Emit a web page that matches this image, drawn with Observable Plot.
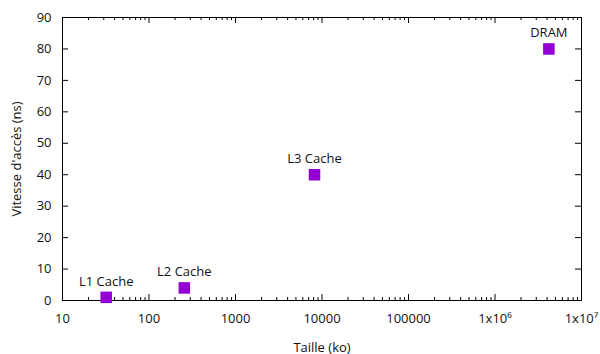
<!DOCTYPE html>
<html>
<head>
<meta charset="utf-8">
<script src="https://cdn.jsdelivr.net/npm/d3@7"></script>
<script src="https://cdn.jsdelivr.net/npm/@observablehq/plot@0.6"></script>
<style>
  html, body { margin: 0; padding: 0; background: #fff; }
  #chart svg { display: block; }
</style>
</head>
<body>
<div id="chart"></div>
<script>
// Data
const labels = ["L1 Cache", "L2 Cache", "L3 Cache", "DRAM"];
const sizes = [32, 256, 8192, 4194304];     // Taille (ko)
const latencies = [1, 4, 40, 80];           // Vitesse d'accès (ns)

const xMajorTicks = [10, 100, 1000, 10000, 100000, 1e6, 1e7];
const xTickLabels = ["10", "100", "1000", "10000", "100000", "1x10\u2076", "1x10\u2077"];
const yTicks = [0, 10, 20, 30, 40, 50, 60, 70, 80, 90];

const data = labels.map((l, i) => ({label: l, size: sizes[i], latency: latencies[i]}));
const xMinorTicks = [];
for (let i = 0; i < xMajorTicks.length - 1; i++)
  for (let k = 2; k <= 9; k++) xMinorTicks.push(xMajorTicks[i] * k);

const W = 600, H = 354;
const mL = 62, mR = 19, mT = 17, mB = 54;
const pw = W - mL - mR, ph = H - mT - mB;
const major = 6, minor = 3;
const color = "#9400D3";

const chart = Plot.plot({
  width: W,
  height: H,
  marginLeft: mL, marginRight: mR, marginTop: mT, marginBottom: mB,
  style: {fontFamily: "'Open Sans', 'Noto Sans', sans-serif", fontSize: "13px", color: "#111", background: "#fff"},
  x: {type: "log", domain: [10, 1e7]},
  y: {domain: [0, 90]},
  marks: [
    // mirrored inward ticks
    Plot.ruleX(xMajorTicks, {x: d => d, insetTop: ph - major, stroke: "#000"}),
    Plot.ruleX(xMajorTicks, {x: d => d, insetBottom: ph - major, stroke: "#000"}),
    Plot.ruleX(xMinorTicks, {x: d => d, insetTop: ph - minor, stroke: "#000"}),
    Plot.ruleX(xMinorTicks, {x: d => d, insetBottom: ph - minor, stroke: "#000"}),
    Plot.ruleY(yTicks, {y: d => d, insetRight: pw - major, stroke: "#000"}),
    Plot.ruleY(yTicks, {y: d => d, insetLeft: pw - major, stroke: "#000"}),
    Plot.axisX(xMajorTicks, {
      tickSize: 0, tickPadding: 13, fontSize: 13,
      tickFormat: d => xTickLabels[xMajorTicks.indexOf(d)],
      label: "Taille (ko)", labelAnchor: "center", labelOffset: 51, labelArrow: "none"
    }),
    Plot.axisY(yTicks, {
      tickSize: 0, tickPadding: 11, fontSize: 13,
      label: "Vitesse d'accès (ns)", labelAnchor: "center", labelOffset: 51, labelArrow: "none"
    }),
    Plot.frame({stroke: "#000"}),
    Plot.dot(data, {x: "size", y: "latency", symbol: "square", r: 6.5, fill: color, stroke: null}),
    Plot.text(data, {x: "size", y: "latency", text: "label", dy: -16, fill: "#111", fontSize: 13})
  ]
});
document.getElementById("chart").append(chart);
</script>
</body>
</html>
